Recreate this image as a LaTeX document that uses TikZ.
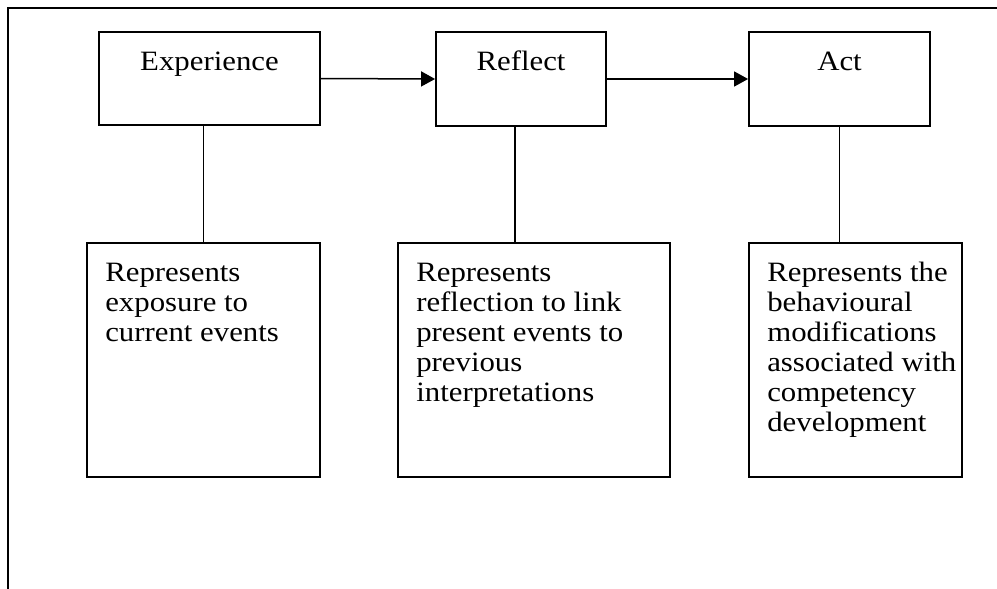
\documentclass[tikz,border=0pt]{standalone}
\usepackage{fontspec}
\setmainfont{Liberation Serif}[FakeStretch=1.1]
\usetikzlibrary{arrows.meta}

\begin{document}
\begin{tikzpicture}[x=1pt, y=-1pt,
  stage/.style={draw, line width=1.8pt, inner sep=0pt},
  note/.style={draw, line width=1.8pt, inner sep=0pt},
  txt/.style={inner sep=0pt, font=\fontsize{28}{30}\selectfont},
  notetxt/.style={txt, align=left, anchor=north west},
  flow/.style={line width=1.5pt, -{Triangle[length=14pt,width=15pt]}},
  link/.style={line width=1.5pt}]
\useasboundingbox (0,0) rectangle (997,589);

% outer frame (top and left edges)
\draw[line width=2pt] (7.5,589) -- (7.5,7.5) -- (997,7.5);

% stage boxes
\node[stage, minimum width=221pt, minimum height=93pt] (exp) at (209.5,78.5) {};
\node[stage, minimum width=170pt, minimum height=94pt] (ref) at (521,79) {};
\node[stage, minimum width=181pt, minimum height=94pt] (act) at (839.5,79) {};

\node[txt, anchor=base] (expt) at ([yshift=-39pt]exp.north) {Experience};
\node[txt, anchor=base] (reft) at ([yshift=-39pt]ref.north) {Reflect};
\node[txt, anchor=base] (actt) at ([yshift=-39pt]act.north) {Act};

% description boxes
\node[note, minimum width=233pt, minimum height=234pt] (n1) at (203.5,360) {};
\node[note, minimum width=272pt, minimum height=234pt] (n2) at (534,360) {};
\node[note, minimum width=213pt, minimum height=234pt] (n3) at (855.5,360) {};

% \strut on the first line keeps all first baselines at the same depth
\node[notetxt] (n1t) at ([xshift=19pt,yshift=-18pt]n1.north west)
  {\strut Represents\\exposure to\\current events};
\node[notetxt] (n2t) at ([xshift=19pt,yshift=-18pt]n2.north west)
  {\strut Represents\\reflection to link\\present events to\\previous\\interpretations};
\node[notetxt] (n3t) at ([xshift=19pt,yshift=-18pt]n3.north west)
  {\strut Represents the\\behavioural\\modifications\\associated with\\competency\\development};

% flow between stages
\draw[flow] (exp.east) -- (ref.west);
\draw[flow] (ref.east) -- (act.west);

% links from stages to descriptions
\draw[link] (exp.south -| n1.north) -- (n1.north);
\draw[link] ([xshift=-6pt]ref.south) -- ([xshift=-6pt]ref.south |- n2.north);
\draw[link] (act.south) -- (act.south |- n3.north);
\end{tikzpicture}
\end{document}
